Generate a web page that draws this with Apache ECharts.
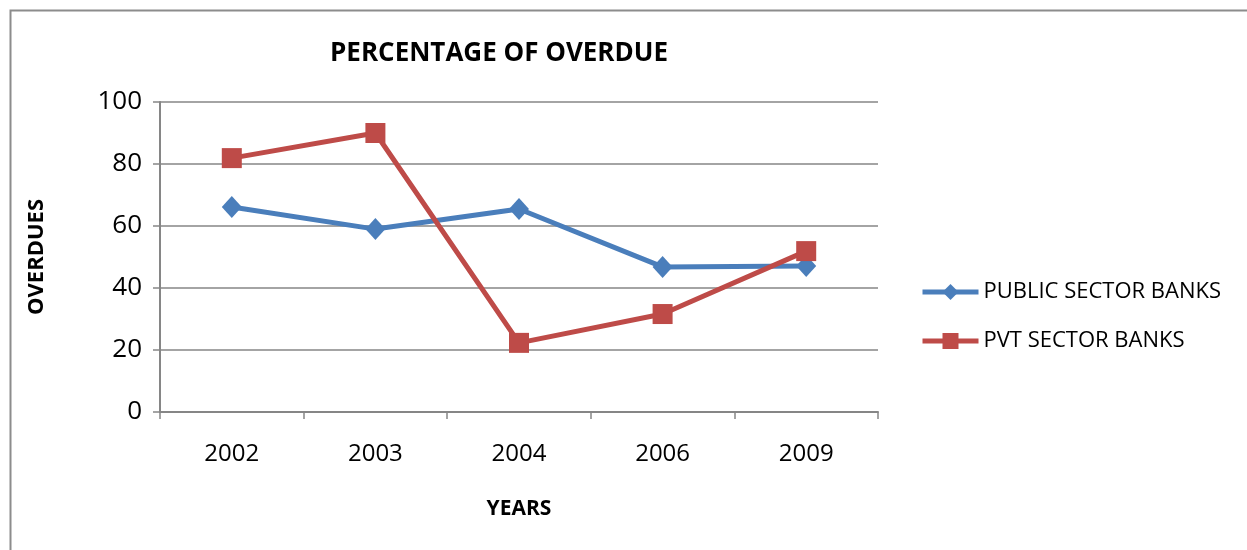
<!DOCTYPE html>
<html><head><meta charset="utf-8">
<script src="https://cdn.jsdelivr.net/npm/echarts@6/dist/echarts.min.js"></script>
<style>html,body{margin:0;padding:0;background:#fff}#c{width:1247px;height:550px}</style>
</head><body><div id="c"></div>
<script>
const categories = ['2002','2003','2004','2006','2009'];
const publicSector = [66.1, 59.0, 65.5, 46.8, 47.1];
const pvtSector = [81.9, 90.0, 22.3, 31.6, 51.9];
const yTicks = [0, 20, 40, 60, 80, 100];

const FONT = 'Open Sans';
const chart = echarts.init(document.getElementById('c'));
chart.setOption({
  animation: false,
  textStyle: {fontFamily: FONT},
  graphic: [{type:'rect', shape:{x:10.5,y:10.5,width:1300,height:600}, style:{fill:'none',stroke:'#8c8c8c',lineWidth:2}, silent:true}],
  title: {text:'PERCENTAGE OF OVERDUE', left:494, top:36, textAlign:'center',
    textStyle:{fontFamily:FONT,fontWeight:'bold',fontSize:26,color:'#000'}},
  grid: {left:160, top:102, width:718, height:310},
  legend: {orient:'vertical', left:915, top:276, itemGap:27, itemWidth:56, itemHeight:20,
    lineStyle:{width:5},
    textStyle:{fontFamily:FONT,fontSize:22,color:'#000'},
    data:['PUBLIC SECTOR BANKS','PVT SECTOR BANKS']},
  xAxis: {type:'category', data:categories, boundaryGap:true,
    axisLine:{lineStyle:{color:'#868686',width:2}},
    axisTick:{show:true,length:7,lineStyle:{color:'#868686',width:1.5}},
    axisLabel:{fontFamily:FONT,fontSize:24,color:'#000',margin:30},
    name:'YEARS', nameLocation:'middle', nameGap:87,
    nameTextStyle:{fontFamily:FONT,fontWeight:'bold',fontSize:21,color:'#000'}},
  yAxis: {type:'value', min:yTicks[0], max:yTicks[yTicks.length-1], interval:20,
    axisLine:{show:true,lineStyle:{color:'#868686',width:2}},
    axisTick:{show:true,length:7,lineStyle:{color:'#868686',width:1.5}},
    splitLine:{lineStyle:{color:'#868686',width:1.5}},
    axisLabel:{fontFamily:FONT,fontSize:26,color:'#000',margin:18},
    name:'OVERDUES', nameLocation:'middle', nameGap:112, nameRotate:90,
    nameTextStyle:{fontFamily:FONT,fontWeight:'bold',fontSize:22,color:'#000'}},
  series: [
    {name:'PUBLIC SECTOR BANKS', type:'line', data:publicSector, symbol:'diamond', symbolSize:[20,22],
      lineStyle:{color:'#4a7ebb',width:5}, itemStyle:{color:'#4a7ebb'}, z:2},
    {name:'PVT SECTOR BANKS', type:'line', data:pvtSector, symbol:'rect', symbolSize:20,
      lineStyle:{color:'#be4b48',width:5}, itemStyle:{color:'#be4b48'}, z:3}
  ]
});
</script></body></html>
